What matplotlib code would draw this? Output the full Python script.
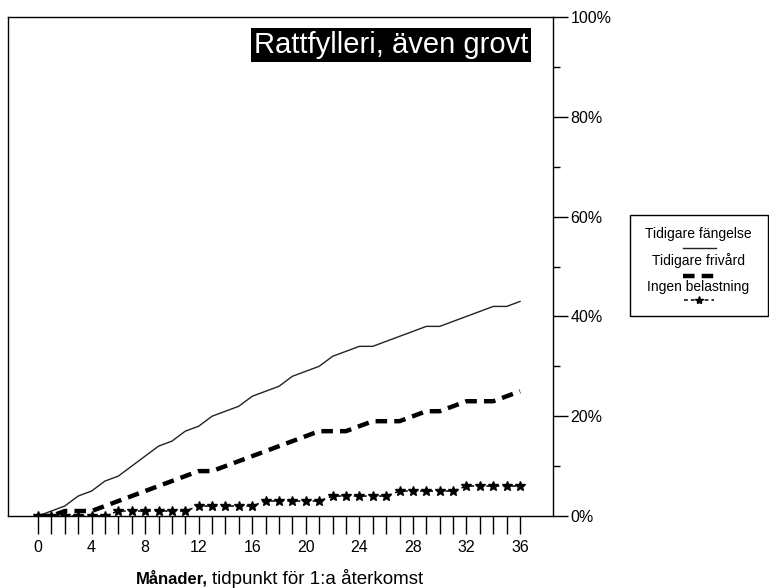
import matplotlib
matplotlib.use("Agg")
import matplotlib.pyplot as plt
from matplotlib.ticker import MultipleLocator, FixedLocator, FuncFormatter
from matplotlib.lines import Line2D
from matplotlib.patches import Rectangle

plt.rcParams['font.family'] = ['Liberation Sans', 'DejaVu Sans']

months = list(range(0, 37))
fangelse = [0, 1, 2, 4, 5, 7, 8, 10, 12, 14, 15, 17, 18, 20, 21, 22, 24, 25, 26,
            28, 29, 30, 32, 33, 34, 34, 35, 36, 37, 38, 38, 39, 40, 41, 42, 42, 43]
frivard = [0, 0, 1, 1, 1, 2, 3, 4, 5, 6, 7, 8, 9, 9, 10, 11, 12, 13, 14,
           15, 16, 17, 17, 17, 18, 19, 19, 19, 20, 21, 21, 22, 23, 23, 23, 24, 25]
ingen = [0, 0, 0, 0, 0, 0, 1, 1, 1, 1, 1, 1, 2, 2, 2, 2, 2, 3, 3,
         3, 3, 3, 4, 4, 4, 4, 4, 5, 5, 5, 5, 5, 6, 6, 6, 6, 6]
xticklabels_pos = [0, 4, 8, 12, 16, 20, 24, 28, 32, 36]
labels = ["Tidigare fängelse", "Tidigare frivård", "Ingen belastning"]
title = "Rattfylleri, även grovt"
xlabel_bold = "Månader,"
xlabel_rest = "tidpunkt för 1:a återkomst"

W, H = 769, 588
fig = plt.figure(figsize=(W / 100, H / 100), dpi=100)
ax = fig.add_axes([8 / W, 1 - 516 / H, (553 - 8) / W, (516 - 17) / H])

solid_style = dict(color='#222222', lw=1.0)
dash_style = dict(color='black', lw=3.2, dashes=(2.6, 1.6), dash_capstyle='butt')
star_style = dict(color='black', lw=1.1, dashes=(3, 2.5), marker='*', markersize=7)

ax.plot(months, fangelse, **solid_style)
ax.plot(months, frivard, **dash_style)
ax.plot(months, ingen, **star_style)

ax.set_xlim(-2.24, 38.46)
ax.set_ylim(0, 100)

ax.xaxis.set_major_locator(FixedLocator(xticklabels_pos))
ax.xaxis.set_minor_locator(FixedLocator([m for m in months if m not in xticklabels_pos]))
ax.tick_params(axis='x', which='both', direction='out', length=13, width=1,
               labelsize=11.5, pad=4.5, color='black')

ax.yaxis.tick_right()
ax.yaxis.set_major_locator(MultipleLocator(20))
ax.yaxis.set_minor_locator(MultipleLocator(10))
ax.yaxis.set_major_formatter(FuncFormatter(lambda v, p: f"{int(v)}%"))
ax.tick_params(axis='y', which='major', direction='out', length=11, width=1,
               labelsize=11.5, pad=1.5)
ax.tick_params(axis='y', which='minor', direction='out', length=5, width=1)

for s in ax.spines.values():
    s.set_linewidth(1)
    s.set_color('black')

ax.text(0.955, 0.972, title, transform=ax.transAxes, ha='right', va='top',
        fontsize=21, color='white',
        bbox=dict(boxstyle='square,pad=0.1', facecolor='black', edgecolor='none'))

# x label (bold part + normal part)
fig.text(136 / W, 1 - 578 / H, xlabel_bold, fontsize=12, fontweight='bold',
         ha='left', va='center')
fig.text(212 / W, 1 - 578 / H, xlabel_rest, fontsize=13.5, ha='left', va='center')

# legend box
fig.patches.append(Rectangle((630 / W, 1 - 316 / H), (768 - 630) / W, (316 - 215) / H,
                             transform=fig.transFigure, facecolor='white',
                             edgecolor='black', lw=1))
ty = [234, 261, 287]
ly = [248, 276, 300]
styles = [solid_style, dash_style, star_style]
for lab, t, l, st in zip(labels, ty, ly, styles):
    fig.text(698 / W, 1 - t / H, lab, fontsize=10, ha='center', va='center')
    st2 = dict(st)
    if 'marker' in st2:
        st2['markevery'] = [1]
        st2['markersize'] = 6
        st2['dashes'] = (2.5, 2)
        fig.lines.append(Line2D([684 / W, 699 / W, 714 / W], [1 - l / H] * 3,
                                transform=fig.transFigure, **st2))
    else:
        fig.lines.append(Line2D([683 / W, 716 / W], [1 - l / H] * 2,
                                transform=fig.transFigure, **st2))

fig.savefig("out.png", dpi=100)
